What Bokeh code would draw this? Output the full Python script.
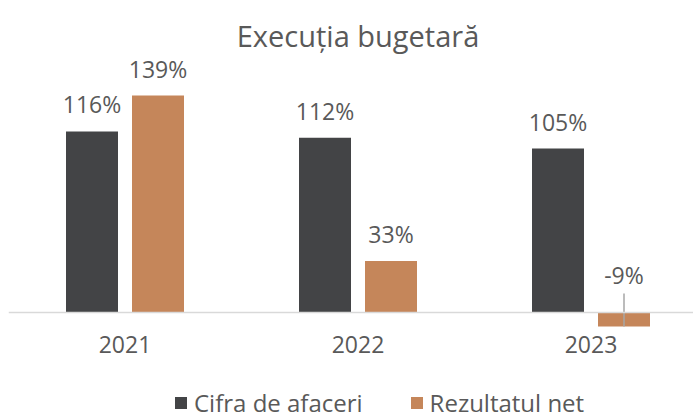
from bokeh.plotting import figure
from bokeh.models import (Range1d, FixedTicker, ColumnDataSource, Span, Legend,
                          LegendItem, LabelSet, Label)
from bokeh.core.properties import value
from bokeh.embed import file_html
from bokeh.resources import INLINE

# ---- data ----
years = ["2021", "2022", "2023"]
cifra_afaceri = [116, 112, 105]
rezultatul_net = [139, 33, -9]
series_names = ["Cifra de afaceri", "Rezultatul net"]
title_text = "Execuția bugetară"

# ---- style / layout ----
DARK = "#434446"
ORANGE = "#C5865A"
TEXT = "#595959"
FONT = "Open Sans"
FW, FH, LEFT = 685, 414, 8
CAT_PX = 233.0            # pixels per category
ZERO_PX = 312.0           # pixel row of value 0 (from top)
PX_PER_UNIT = 1.561
BAR_W = 52 / CAT_PX
OFF = 33 / CAT_PX


def px_to_y(py):
    """pixel row (from top) -> data y"""
    return (ZERO_PX - py) / PX_PER_UNIT


centers = [i + 0.5 for i in range(len(years))]
x_dark = [c - OFF for c in centers]
x_orange = [c + OFF for c in centers]

p = figure(frame_width=FW, frame_height=FH, output_backend="svg", toolbar_location=None,
           x_range=Range1d(0, FW / CAT_PX),
           y_range=Range1d(px_to_y(FH), px_to_y(0)),
           min_border_left=LEFT, min_border_right=0, min_border_top=0,
           min_border_bottom=0)
p.outline_line_color = None
p.grid.visible = False
p.yaxis.visible = False

# title (centred over the plot area)
p.add_layout(Label(x=len(years) / 2, y=px_to_y(35), text=title_text,
                   text_align="center", text_baseline="alphabetic",
                   text_font=FONT, text_font_size="29px", text_color=TEXT))


def label_src(xs, vals):
    return ColumnDataSource(dict(
        x=xs, top=vals,
        ly=[max(v, 0) for v in vals],
        off=[18 if v >= 0 else 29 for v in vals],
        txt=[f"{v}%" for v in vals]))


src_d = label_src(x_dark, cifra_afaceri)
src_o = label_src(x_orange, rezultatul_net)

r_d = p.vbar(x="x", top="top", bottom=0, width=BAR_W, source=src_d,
             fill_color=DARK, line_color=None)
r_o = p.vbar(x="x", top="top", bottom=0, width=BAR_W, source=src_o,
             fill_color=ORANGE, line_color=None)

# baseline at zero
p.add_layout(Span(location=0, dimension="width", line_color="#D9D9D9", line_width=1.5))

# leader lines for negative values
neg_x = [x for x, v in zip(x_orange + x_dark, rezultatul_net + cifra_afaceri) if v < 0]
neg_v = [v for v in rezultatul_net + cifra_afaceri if v < 0]
p.segment(x0=neg_x, x1=neg_x, y0=neg_v, y1=[19 / PX_PER_UNIT] * len(neg_v),
          line_color="#A6A6A6", line_width=1.5)

for src in (src_d, src_o):
    p.add_layout(LabelSet(x="x", y="ly", text="txt", source=src, y_offset="off",
                          text_align="center", text_baseline="alphabetic",
                          text_font=value(FONT), text_font_size="23px", text_color=TEXT))

# category axis drawn just below the lowest bar
p.xaxis.fixed_location = px_to_y(330)
p.xaxis.ticker = FixedTicker(ticks=centers)
p.xaxis.major_label_overrides = {c: y for c, y in zip(centers, years)}
p.xaxis.axis_line_color = None
p.xaxis.major_tick_line_color = None
p.xaxis.minor_tick_line_color = None
p.xaxis.major_tick_out = 0
p.xaxis.major_tick_in = 0
p.xaxis.major_label_standoff = 5
p.xaxis.major_label_text_font = FONT
p.xaxis.major_label_text_font_size = "23px"
p.xaxis.major_label_text_color = TEXT

legend = Legend(items=[LegendItem(label=series_names[0], renderers=[r_d]),
                       LegendItem(label=series_names[1], renderers=[r_o])],
                orientation="horizontal", location=(165, -5),
                border_line_color=None, background_fill_alpha=0,
                padding=0, margin=0, spacing=46, glyph_width=15, glyph_height=15,
                label_standoff=6, label_text_font=FONT, label_text_font_size="24px",
                label_text_color=TEXT)
p.add_layout(legend, "center")

open("out.html", "w").write(file_html(p, INLINE))
